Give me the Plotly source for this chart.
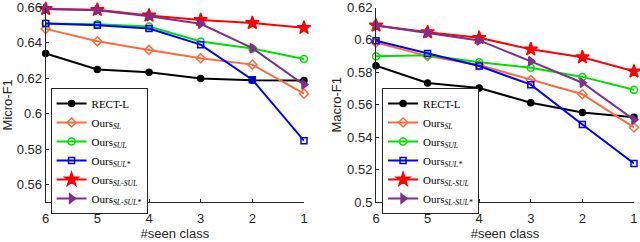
import plotly.graph_objects as go

x_classes = [6, 5, 4, 3, 2, 1]
tick_labels = ["6", "5", "4", "3", "2", "1"]

names = ["RECT-L", "Ours<sub><i>SL</i></sub>", "Ours<sub><i>SUL</i></sub>",
         "Ours<sub><i>SUL*</i></sub>", "Ours<sub><i>SL-SUL</i></sub>",
         "Ours<sub><i>SL-SUL*</i></sub>"]

micro_rect = [0.6340, 0.6250, 0.6234, 0.6198, 0.6189, 0.6187]
micro_sl = [0.6479, 0.6409, 0.6360, 0.6313, 0.6277, 0.6113]
micro_sul = [0.6509, 0.6506, 0.6492, 0.6408, 0.6368, 0.6309]
micro_sulstar = [0.6509, 0.6500, 0.6481, 0.6390, 0.6192, 0.5847]
micro_slsul = [0.6592, 0.6587, 0.6555, 0.6530, 0.6513, 0.6485]
micro_slsulstar = [0.6592, 0.6585, 0.6550, 0.6508, 0.6370, 0.6164]

macro_rect = [0.5841, 0.5734, 0.5703, 0.5613, 0.5553, 0.5523]
macro_sl = [0.5985, 0.5900, 0.5845, 0.5753, 0.5665, 0.5460]
macro_sul = [0.5900, 0.5905, 0.5862, 0.5829, 0.5772, 0.5692]
macro_sulstar = [0.5995, 0.5917, 0.5839, 0.5724, 0.5478, 0.5238]
macro_slsul = [0.6089, 0.6048, 0.6013, 0.5942, 0.5893, 0.5806]
macro_slsulstar = [0.6089, 0.6044, 0.5997, 0.5868, 0.5736, 0.5508]

colors = ["#000000", "#FF6A3A", "#00E000", "#0000FF", "#FF0000", "#7E2F8E"]
symbols = ["circle", "diamond-open", "circle-open", "square-open", "star", "triangle-right"]
sizes = [6, 7, 7, 6, 10, 8]

micro = [micro_rect, micro_sl, micro_sul, micro_sulstar, micro_slsul, micro_slsulstar]
macro = [macro_rect, macro_sl, macro_sul, macro_sulstar, macro_slsul, macro_slsulstar]

fig = go.Figure()
for i in range(6):
    fig.add_trace(go.Scatter(x=x_classes, y=micro[i], name=names[i], mode="lines+markers",
                             line=dict(color=colors[i], width=2),
                             marker=dict(symbol=symbols[i], size=sizes[i], color=colors[i],
                                         line=dict(color=colors[i], width=1.5)),
                             cliponaxis=False,
                             xaxis="x", yaxis="y", legend="legend"))
for i in range(6):
    fig.add_trace(go.Scatter(x=x_classes, y=macro[i], name=names[i], mode="lines+markers",
                             line=dict(color=colors[i], width=2),
                             marker=dict(symbol=symbols[i], size=sizes[i], color=colors[i],
                                         line=dict(color=colors[i], width=1.5)),
                             cliponaxis=False,
                             xaxis="x2", yaxis="y2", legend="legend2"))

font_ax = dict(family="Liberation Sans, Arial", size=13, color="#262626")
axis_common = dict(showgrid=False, zeroline=False, showline=True, linecolor="#262626",
                   linewidth=1, ticks="inside", ticklen=3, tickcolor="#262626",
                   tickfont=font_ax, mirror=False, automargin=False)

leg_font = dict(family="Liberation Serif, Times New Roman", size=11, color="black")

fig.update_layout(
    width=640, height=242,
    margin=dict(l=0, r=0, t=0, b=0),
    paper_bgcolor="white", plot_bgcolor="white",
    xaxis=dict(domain=[0.0714, 0.475], range=[6, 1], tickvals=x_classes, ticktext=tick_labels,
               anchor="y", ticklabelstandoff=4,
               title=dict(text="#seen class", font=font_ax, standoff=2),
               **axis_common),
    yaxis=dict(domain=[0.165, 0.969], range=[0.55, 0.66], anchor="x",
               tickvals=[0.56, 0.58, 0.6, 0.62, 0.64, 0.66],
               ticktext=["0.56", "0.58", "0.6", "0.62", "0.64", "0.66"],
               title=dict(text="Micro-F1", font=font_ax, standoff=2),
               **axis_common),
    xaxis2=dict(domain=[0.5875, 0.9906], range=[6, 1], tickvals=x_classes, ticktext=tick_labels,
                anchor="y2", ticklabelstandoff=4,
                title=dict(text="#seen class", font=font_ax, standoff=2),
                **axis_common),
    yaxis2=dict(domain=[0.165, 0.969], range=[0.5, 0.62], anchor="x2",
                tickvals=[0.5, 0.52, 0.54, 0.56, 0.58, 0.6, 0.62],
                ticktext=["0.5", "0.52", "0.54", "0.56", "0.58", "0.6", "0.62"],
                title=dict(text="Macro-F1", font=font_ax, standoff=2),
                **axis_common),
    legend=dict(x=0.079, y=1 - 88 / 242, xanchor="left", yanchor="top",
                bgcolor="white", bordercolor="#262626", borderwidth=1,
                font=leg_font, tracegroupgap=0, itemwidth=30),
    legend2=dict(x=0.597, y=1 - 88 / 242, xanchor="left", yanchor="top",
                 bgcolor="white", bordercolor="#262626", borderwidth=1,
                 font=leg_font, tracegroupgap=0, itemwidth=30),
)

fig.write_html("out.html",
               config={"displayModeBar": False},
               post_script="document.body.style.margin='0px';document.body.style.padding='0px';"
                           "document.body.style.overflow='hidden';")
